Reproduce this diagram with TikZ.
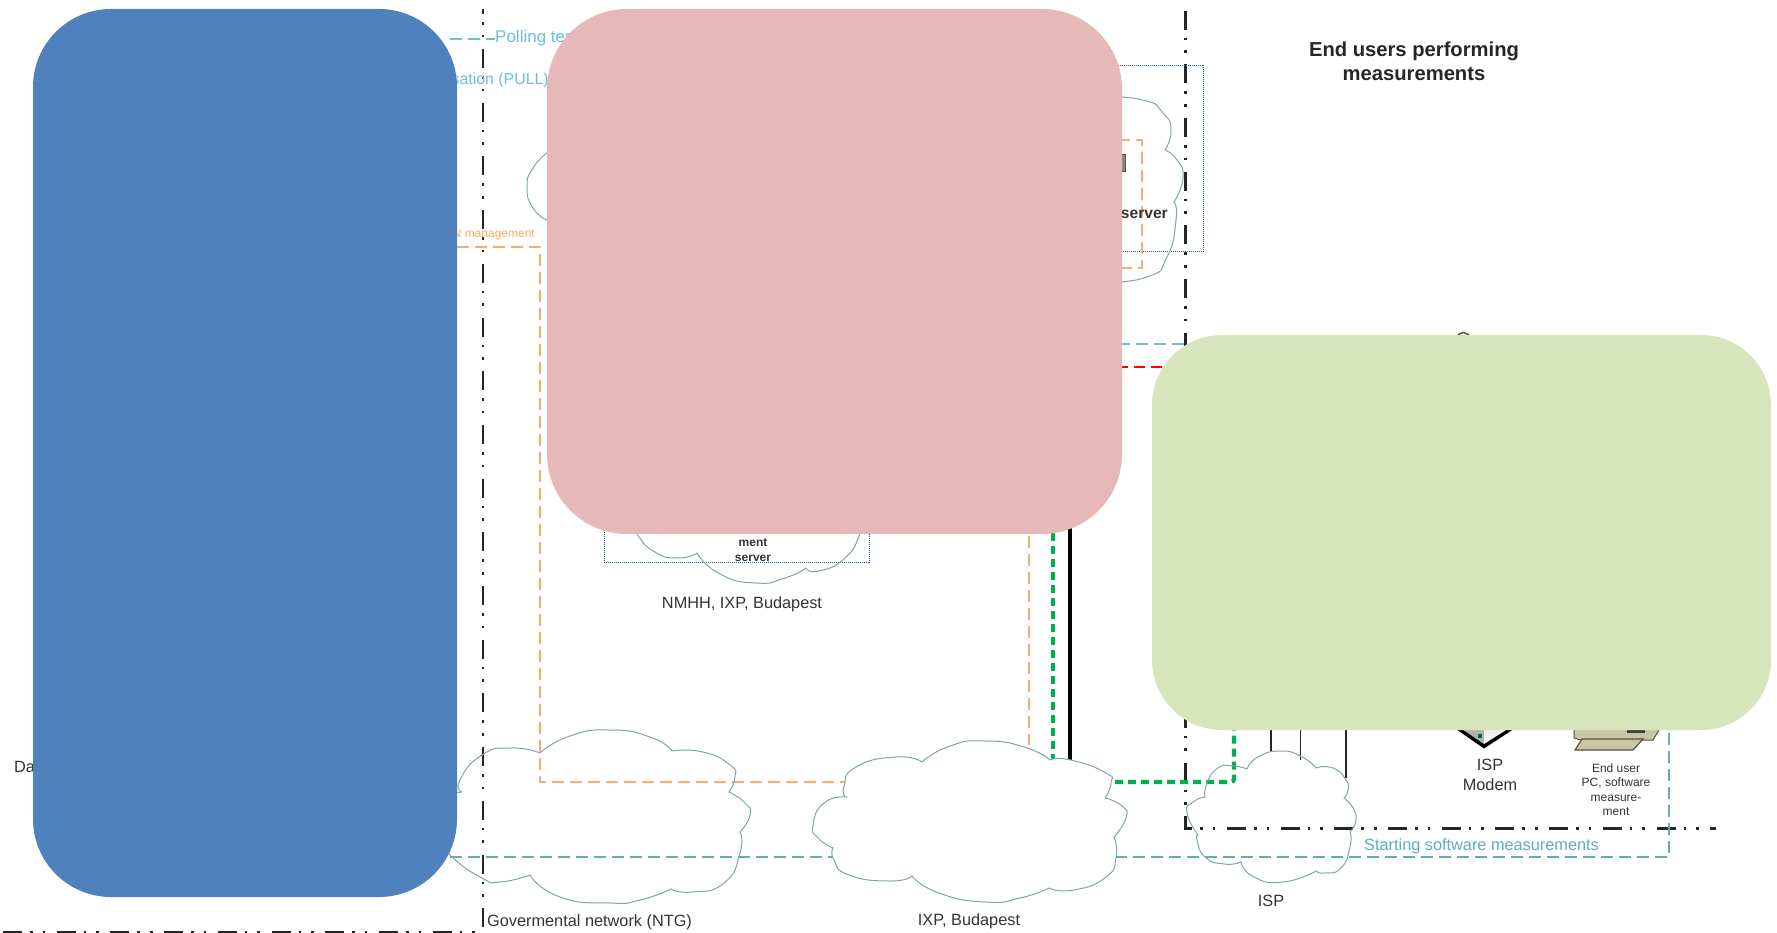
\documentclass[tikz,border=0pt]{standalone}
\usepackage{fontspec}
\setmainfont{Liberation Sans}
\definecolor{panelblue}{HTML}{4F81BD}
\definecolor{panelpink}{HTML}{E6B8B7}
\definecolor{panelgreen}{HTML}{D8E4BC}
\definecolor{cloudgray}{HTML}{7FA5AB}
\definecolor{linecyan}{HTML}{6DBFD6}
\definecolor{linesea}{HTML}{5FABC2}
\definecolor{lineorange}{HTML}{F9AC6E}
\definecolor{linegreen}{HTML}{00B050}
\definecolor{boxblue}{HTML}{1F4E9A}
\definecolor{pctan}{HTML}{C9C6A6}
\definecolor{pcdark}{HTML}{55553A}
\definecolor{inktext}{HTML}{333333}
\newcommand{\fs}[1]{\fontsize{#1}{#1}\selectfont}
\tikzset{
    panel/.style={rounded corners=#1, draw=none},
    divider/.style={line width=2.6, black!85, dash pattern=on 19 off 8 on 2.6 off 10 on 2.6 off 11.5},
    cloudline/.style={draw=cloudgray, line width=1},
    lobe/.style={smooth, tension=1},
    cyanline/.style={linecyan, line width=1.3, dash pattern=on 12 off 6},
    sealine/.style={linesea, line width=1.4, dash pattern=on 12 off 6},
    orangeline/.style={lineorange, line width=1.3, dash pattern=on 12 off 6},
    greenline/.style={linegreen, line width=4.2, dash pattern=on 8 off 5},
    dotbox/.style={boxblue, line width=1, densely dotted},
    label/.style={inner sep=0, text=inktext, align=center}
}
\begin{document}
\begin{tikzpicture}[x=1pt, y=-1pt]
    \useasboundingbox (0, 0) rectangle (1777, 933);

    % zone borders
    \draw[divider, dash phase=13.7] (483, 9) -- (483, 933);
    \draw[divider, line width=3, dash phase=0] (3, 932) -- (483, 932);
    \draw[divider, line width=3, dash phase=52] (1185, 9) -- (1185, 828) -- (1716, 828);

    % links
    \draw[cyanline] (450, 39) -- (495, 39);
    \draw[cyanline] (1100, 344) -- (1185, 344);
    \draw[red, line width=1.2, dash pattern=on 11 off 6] (1100, 367) -- (1180, 367);
    \draw[orangeline] (457, 247) -- (540, 247) -- (540, 782) -- (846, 782);
    \draw[orangeline] (1029, 500) -- (1029, 745);
    \draw[sealine] (450, 857) -- (836, 857);
    \draw[sealine] (1115, 857) -- (1669, 857) -- (1669, 720);
    \draw[greenline] (1053, 520) -- (1053, 760);
    \draw[greenline, rounded corners=3] (1115, 782) -- (1234, 782) -- (1234, 725);
    \draw[black, line width=3.6] (1070, 520) -- (1070, 760);
    \foreach \xpos/\yend in {1271/752, 1300.5/760, 1346/778} {
        \draw[black!85, line width=1.2] (\xpos, 725) -- (\xpos, \yend);
    }

    % boxes
    \draw[dotbox] (1000, 66) -- (1203, 66) -- (1203, 252) -- (1000, 252);
    \draw[dotbox] (604, 500) -- (604, 562) -- (869, 562) -- (869, 500);
    \draw[orangeline] (1100, 140) -- (1142, 140) -- (1142, 268) -- (1100, 268);

    % clouds
    \draw[cloudline] plot[lobe] coordinates {(547, 153) (533, 168) (527, 187) (533, 208) (547, 220)};
    \draw[cloudline] plot[lobe] coordinates {(1100, 97) (1143, 100) (1163, 113) (1171, 130) (1165, 150)}
        -- plot[lobe] coordinates {(1165, 150) (1177, 160) (1183, 178) (1174, 202)}
        -- plot[lobe] coordinates {(1174, 202) (1176, 220) (1167, 257) (1147, 277) (1100, 282)};
    \draw[cloudline] plot[lobe] coordinates {(625, 510) (637, 534) (655, 552) (678, 558) (697, 553)}
        -- plot[lobe] coordinates {(697, 553) (720, 574) (756, 583) (785, 578) (806, 568)}
        -- plot[lobe] coordinates {(806, 568) (819, 571) (845, 558) (860, 534) (865, 515)};
    \draw[cloudline] plot[lobe] coordinates {(462, 792) (460, 780) (482, 755) (511, 748) (540, 753)}
        -- plot[lobe] coordinates {(540, 753) (570, 736) (610, 730) (650, 737) (672, 751)}
        -- plot[lobe] coordinates {(672, 751) (703, 752) (730, 765) (735, 777) (729, 792)}
        -- plot[lobe] coordinates {(729, 792) (745, 803) (750, 815) (740, 832)}
        -- plot[lobe] coordinates {(740, 832) (740, 853) (724, 883) (692, 892) (671, 889)}
        -- plot[lobe] coordinates {(671, 889) (640, 900) (610, 903) (560, 897) (530, 875)}
        -- plot[lobe] coordinates {(530, 875) (500, 882) (482, 878) (452, 857) (440, 840)};
    \draw[cloudline] (440, 795) -- (462, 792);
    \draw[cloudline, fill=white] plot[lobe] coordinates {(846, 797) (844, 787) (856, 767) (896, 757) (922, 762)}
        -- plot[lobe] coordinates {(922, 762) (950, 746) (985, 741) (1024, 747) (1050, 760)}
        -- plot[lobe] coordinates {(1050, 760) (1071, 760) (1106, 773) (1111, 783) (1105, 798)}
        -- plot[lobe] coordinates {(1105, 798) (1122, 806) (1126, 818) (1114, 837)}
        -- plot[lobe] coordinates {(1114, 837) (1116, 857) (1106, 877) (1074, 890) (1049, 888)}
        -- plot[lobe] coordinates {(1049, 888) (1020, 898) (985, 902) (939, 893) (912, 876)}
        -- plot[lobe] coordinates {(912, 876) (890, 881) (849, 875) (834, 860) (833, 848)}
        -- plot[lobe] coordinates {(833, 848) (818, 838) (813, 825) (824, 803) (846, 797)} -- cycle;
    \draw[cloudline] plot[lobe] coordinates {(1205, 797) (1207, 783) (1218, 768) (1233, 766) (1247, 769)}
        -- plot[lobe] coordinates {(1247, 769) (1258, 757) (1281, 751) (1302, 757) (1316, 768)}
        -- plot[lobe] coordinates {(1316, 768) (1333, 768) (1346, 780) (1348, 790) (1344, 798)}
        -- plot[lobe] coordinates {(1344, 798) (1356, 815) (1350, 832)}
        -- plot[lobe] coordinates {(1350, 832) (1350, 847) (1341, 868) (1325, 873) (1316, 871)}
        -- plot[lobe] coordinates {(1316, 871) (1283, 882) (1254, 877) (1241, 862)}
        -- plot[lobe] coordinates {(1241, 862) (1224, 864) (1205, 857) (1197, 840) (1198, 835)}
        -- plot[lobe] coordinates {(1198, 835) (1187, 813) (1193, 802) (1205, 797)} -- cycle;
    \draw[pcdark, line width=1.5] plot[smooth] coordinates {(1458, 335) (1463, 332.5) (1469, 335)};

    % devices
    \fill[pcdark!70, draw=pcdark, line width=1] (1118, 155) rectangle (1125, 172);
    \fill[black] (1450, 725) -- (1484, 748.5) -- (1520, 725) -- cycle;
    \fill[black!30] (1456, 725) -- (1484, 744) -- (1484, 725) -- cycle;
    \fill[black!6] (1484, 725) -- (1484, 744) -- (1514, 725) -- cycle;
    \fill[linegreen!60!black] (1478, 734) rectangle (1482, 738);
    \fill[pctan, draw=pcdark, line width=1] (1574, 725) -- (1574, 738) -- (1581, 740) -- (1653, 740) -- (1662, 725) -- cycle;
    \fill[pctan, draw=pcdark, line width=1.2] (1582, 739) -- (1643, 739) -- (1633, 750) -- (1575, 750) -- cycle;
    \fill[black!75] (1627, 730) rectangle (1645, 733);

    % texts
    \node[label, text=black!85, font=\fs{20.2}\bfseries] (title) at (1414, 61) {End users performing\\[4pt]measurements};
    \node[label, anchor=west, text=linecyan, font=\fs{17}] (polling) at (495, 38.5) {Polling test};
    \node[label, anchor=east, text=linecyan, font=\fs{15.9}] (pull) at (549, 80.5) {sation (PULL)};
    \node[label, anchor=east, text=lineorange, font=\fs{12}] (mgmt) at (535, 235) {N management};
    \node[label, anchor=east, font=\fs{15.6}\bfseries] (srvtop) at (1168, 214) {server};
    \node[label, font=\fs{12}\bfseries] (srvlow) at (753, 550.5) {ment\\[3pt]server};
    \node[label, font=\fs{16.3}] (nmhh) at (742, 604) {NMHH, IXP, Budapest};
    \node[label, anchor=west, font=\fs{16.3}] (ntg) at (487, 922) {Govermental network (NTG)};
    \node[label, font=\fs{16.3}] (ixp) at (969, 921) {IXP, Budapest};
    \node[label, font=\fs{16.3}] (isp) at (1271, 901) {ISP};
    \node[label, font=\fs{16.3}] (modem) at (1490, 775) {ISP\\[3pt]Modem};
    \node[label, font=\fs{12}] (enduser) at (1616, 789.5) {End user\\[2.5pt]PC, software\\[2.5pt]measure-\\[2.5pt]ment};
    \node[label, anchor=west, text=linesea, font=\fs{16.3}] (starting) at (1364, 846) {Starting software measurements};
    \node[label, anchor=west, font=\fs{16.3}] (da) at (14, 767) {Da};

    % panels on top
    \fill[panel=78, panelblue] (33, 9) rectangle (457, 897);
    \fill[panel=80, panelpink] (547, 9) rectangle (1122, 534);
    \fill[panel=70, panelgreen] (1152, 335) rectangle (1771, 730);
\end{tikzpicture}
\end{document}
